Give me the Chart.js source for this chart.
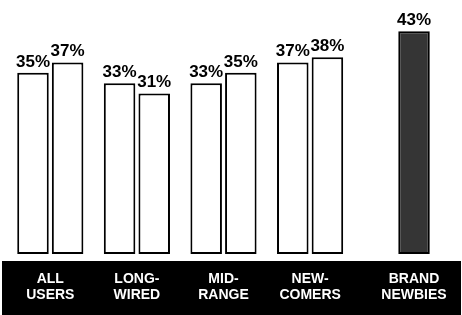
<!DOCTYPE html>
<html>
<head>
<meta charset="utf-8">
<script src="https://cdn.jsdelivr.net/npm/chart.js@4"></script>
<style>
  body { margin: 0; background: #fff; }
  canvas { display: block; }
</style>
</head>
<body>
<canvas id="chart" width="462" height="315"></canvas>
<script>
  const categories = [['ALL', 'USERS'], ['LONG-', 'WIRED'], ['MID-', 'RANGE'], ['NEW-', 'COMERS'], ['BRAND', 'NEWBIES']];
  const firstBars = [35, 33, 33, 37, null];
  const secondBars = [37, 31, 35, 38, 43];
  const secondColors = ['#ffffff', '#ffffff', '#ffffff', '#ffffff', '#353535'];

  // black band under the bars + value labels + white category labels
  const decorations = {
    id: 'decorations',
    beforeDraw(chart) {
      const ctx = chart.ctx;
      ctx.save();
      ctx.fillStyle = '#fff';
      ctx.fillRect(0, 0, chart.width, chart.height);
      ctx.fillStyle = '#000';
      ctx.fillRect(2, chart.chartArea.bottom + 7, chart.width - 3, chart.height - chart.chartArea.bottom - 7);
      ctx.restore();
    },
    afterDatasetsDraw(chart) {
      const ctx = chart.ctx;
      ctx.save();
      ctx.textAlign = 'center';
      ctx.textBaseline = 'alphabetic';
      ctx.fillStyle = '#000';
      ctx.font = 'bold 17px "Liberation Sans", Arial, sans-serif';
      const centers = categories.map(() => []);
      chart.data.datasets.forEach((ds, di) => {
        chart.getDatasetMeta(di).data.forEach((bar, i) => {
          if (ds.data[i] == null) return;
          centers[i].push(bar.x);
          ctx.fillText(ds.data[i] + '%', bar.x, bar.y - 6);
        });
      });
      ctx.fillStyle = '#fff';
      ctx.font = 'bold 14px "Liberation Sans", Arial, sans-serif';
      const base = chart.chartArea.bottom;
      categories.forEach((lines, i) => {
        const x = centers[i].reduce((a, b) => a + b, 0) / centers[i].length;
        lines.forEach((line, j) => {
          ctx.fillText(line, x, base + 29 + j * 16);
        });
      });
      ctx.restore();
    }
  };

  new Chart(document.getElementById('chart').getContext('2d'), {
    type: 'bar',
    data: {
      labels: categories.map(c => c.join(' ')),
      datasets: [{
        data: firstBars,
        backgroundColor: '#ffffff',
        borderColor: '#000',
        borderWidth: 2,
        borderSkipped: false
      }, {
        data: secondBars,
        backgroundColor: secondColors,
        borderColor: '#000',
        borderWidth: 2,
        borderSkipped: false
      }]
    },
    options: {
      responsive: false,
      animation: false,
      categoryPercentage: 0.8,
      barPercentage: 0.91,
      layout: { padding: { top: 21, bottom: 61, left: 7, right: 22 } },
      plugins: { legend: { display: false }, tooltip: { enabled: false } },
      scales: {
        x: { display: false },
        y: { display: false, min: 0, max: 45 }
      }
    },
    plugins: [decorations]
  });
</script>
</body>
</html>
